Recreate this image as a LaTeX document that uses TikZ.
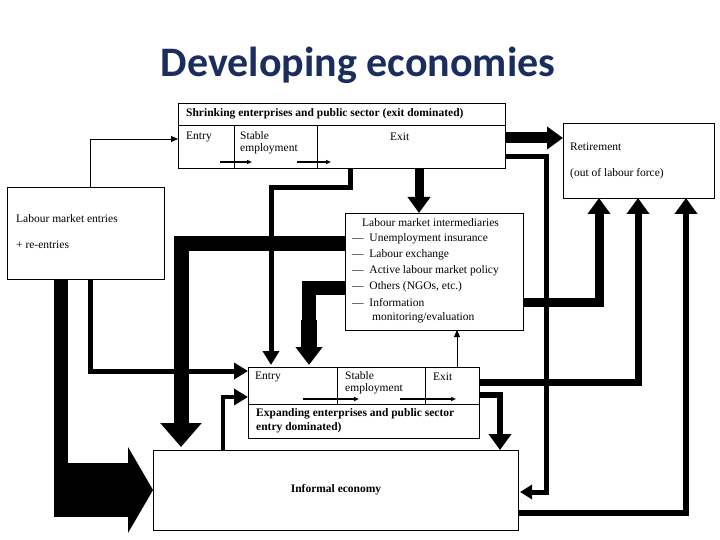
\documentclass[tikz,border=0pt]{standalone}
\usepackage{fontspec}
\setmainfont{Liberation Serif}
\newfontfamily\titlefont{Carlito}
\usetikzlibrary{arrows.meta}
\definecolor{navy}{HTML}{1B2D5C}
\begin{document}
\begin{tikzpicture}[x=1pt,y=-1pt,
  box/.style={draw,fill=white,line width=0.8pt,anchor=north west,inner sep=0pt},
  txt/.style={anchor=west,inner sep=0pt,font=\fontsize{11.5}{12.5}\selectfont},
  btxt/.style={txt,font=\fontsize{11.5}{12.5}\selectfont\bfseries},
  thin/.style={line width=0.9pt,-{Triangle[length=7pt,width=6pt]}},
  med/.style={line width=5pt,-{Triangle[length=14pt,width=16pt]}},
  thick/.style={line width=9pt,-{Triangle[length=16pt,width=22pt]}},
  huge/.style={line width=15pt,-{Triangle[length=24pt,width=40pt]}}]
\useasboundingbox (0,0) rectangle (720,540);
\fill[white] (0,0) rectangle (720,540);
\node[font=\titlefont\bfseries\fontsize{42}{46}\selectfont,text=navy] (title) at (358,65) {Developing economies};

% connectors
\draw[thin] (90,187) |- (178,139);
\draw[thick,line width=11pt] (505,138) -- (563,138);
\draw[line width=5pt,-{Triangle[length=12pt,width=14pt]}] (505,157) -| (546,492) -- (520,492);
\draw[thick] (419,168) -- (419,213);
\draw[med] (350,168) -- (350,188) -| (271,365);
\draw[huge] (345,243) -| (181,447);
\draw[line width=14pt] (345,288) -| (309,330);
\draw[line width=16pt,-{Triangle[length=18pt,width=26pt]}] (309,320) -- (309,365);
\draw[thick] (523,302) -| (599,198);
\draw[thin] (457,367) -- (457,330);
\draw[thick,line width=7pt] (479,382) -| (638,198);
\draw[thick,line width=6pt] (479,395) -| (500,450);
\draw[thick,line width=6pt] (518,513) -| (686,198);
\draw[med,line width=4pt] (223,450) |- (248,397);
\draw[med] (90,279) |- (248,371);
\draw[line width=14pt] (61,279) -- (61,517);
\fill (54,463) rectangle (130,517);
\fill (128,447) -- (153,490) -- (128,533) -- cycle;

% boxes
\node[box,minimum width=327pt,minimum height=65pt] (shr) at (178,103) {};
\draw[line width=0.8pt] (178,125) -- (505,125) (234,125) -- (234,168) (317,125) -- (317,168);
\node[btxt] (shrt) at (186,114) {Shrinking enterprises and public sector (exit dominated)};
\node[txt] (e1) at (186,137) {Entry};
\node[txt,align=left,anchor=north west] (s1) at (240,131) {Stable\\employment};
\node[txt] (x1) at (390,137) {Exit};
\draw[line width=1.2pt,-{Triangle[length=5pt,width=4pt]}] (220,162) -- (252,162);
\draw[line width=1.2pt,-{Triangle[length=5pt,width=4pt]}] (297,162) -- (331,162);

\node[box,minimum width=151pt,minimum height=75pt] (ret) at (563,123) {};
\node[txt] at (570,147) {Retirement};
\node[txt] at (570,174) {(out of labour force)};

\node[box,minimum width=157pt,minimum height=92pt] (lme) at (7,187) {};
\node[txt] at (16,219) {Labour market entries};
\node[txt] at (16,245) {+ re-entries};

\node[box,minimum width=178pt,minimum height=117pt] (lmi) at (345,213) {};
\node[txt] at (362,223) {Labour market intermediaries};
\foreach \y/\t in {239/Unemployment insurance,255/Labour exchange,271/Active labour market policy,287/Others (NGOs{,} etc.),303/Information}
  \node[txt] at (352,\y) {---\ \ \t};
\node[txt] at (372,318) {monitoring/evaluation};

\node[box,minimum width=231pt,minimum height=71pt] (exp) at (248,367) {};
\draw[line width=0.8pt] (248,404) -- (479,404) (337,367) -- (337,404) (425,367) -- (425,404);
\node[txt] (e2) at (255,377) {Entry};
\node[txt,align=left,anchor=north west] (s2) at (345,371) {Stable\\employment};
\node[txt] (x2) at (433,377) {Exit};
\draw[line width=1.2pt,-{Triangle[length=5pt,width=4pt]}] (303,399) -- (359,399);
\draw[line width=1.2pt,-{Triangle[length=5pt,width=4pt]}] (400,399) -- (456,399);
\node[btxt] at (256,414) {Expanding enterprises and public sector};
\node[btxt] at (256,428) {entry dominated)};

\node[box,minimum width=365pt,minimum height=80pt] (inf) at (153,450) {};
\node[btxt,anchor=center] at (336,490) {Informal economy};
\end{tikzpicture}
\end{document}
